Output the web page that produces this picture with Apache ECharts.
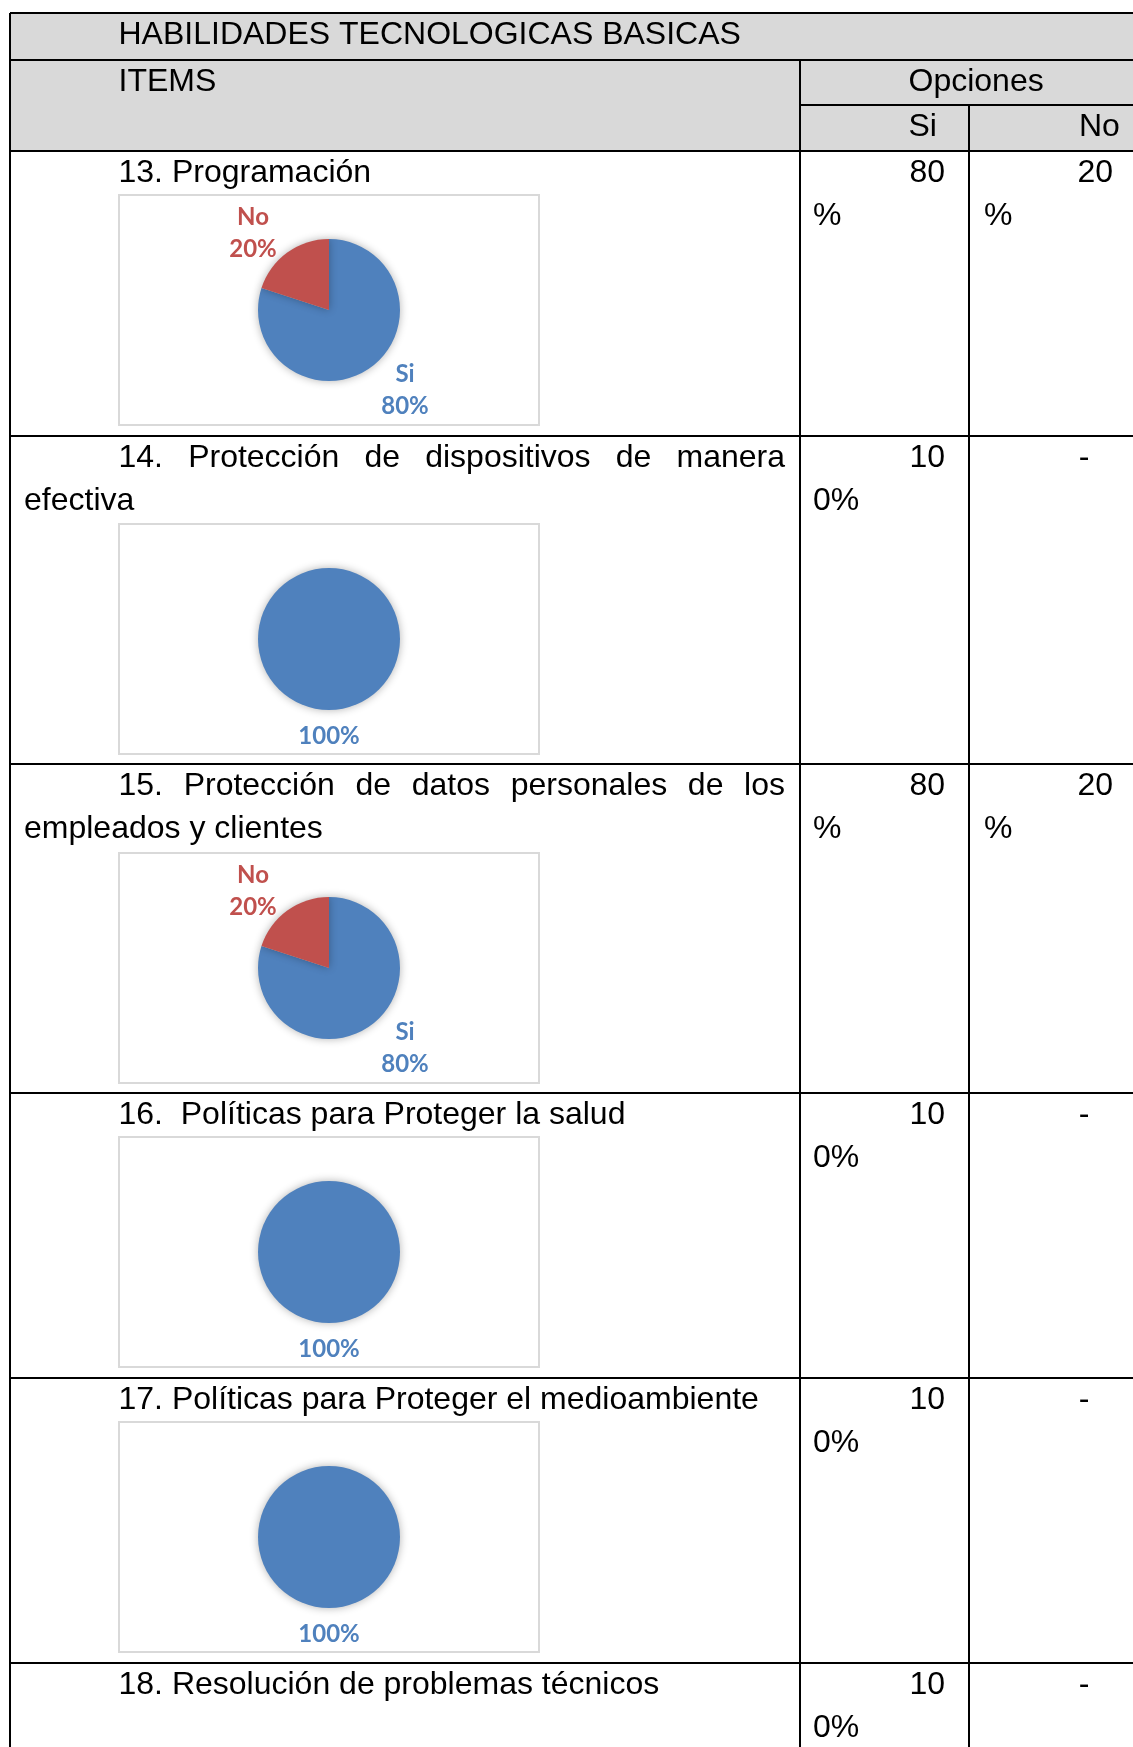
<!DOCTYPE html>
<html>
<head>
<meta charset="utf-8">
<script src="https://cdn.jsdelivr.net/npm/echarts@6/dist/echarts.min.js"></script>
<style>
html,body{margin:0;padding:0;background:#fff;}
#c{width:1133px;height:1747px;}
</style>
</head>
<body>
<div id="c"></div>
<script>
(function () {
// ---------------- data ----------------
const tableTitle = 'HABILIDADES TECNOLOGICAS BASICAS';
const itemsHeader = 'ITEMS';
const optionsHeader = 'Opciones';
const categories = ['Si', 'No'];
const itemTexts = [
  '13. Programación',
  '14. Protección de dispositivos de manera efectiva',
  '15. Protección de datos personales de los empleados y clientes',
  '16.  Políticas para Proteger la salud',
  '17. Políticas para Proteger el medioambiente',
  '18. Resolución de problemas técnicos'
];
const siValues = [80, 100, 80, 100, 100, 100];
const noValues = [20, 0, 20, 0, 0, 0];
const hasChart = [true, true, true, true, true, false];

// ---------------- layout / style ----------------
const W = 1133, H = 1747;
const FONT_FAMILY = '"Liberation Sans", Arial, Helvetica, sans-serif';
const FS = 32;
const LINE_H = 43.8;
const LEFT = 10, COL1 = 800, COL2 = 969;
const TOP = 13, ROW2 = 60, ROW3 = 105, BODY_TOP = 151;
const FIRST_X = 118.5, NEXT_X = 24, TEXT_RIGHT = 785;
const TEXT_OFF = 21.7;
const BOX_X = 119, BOX_W = 420, BOX_H = 230, BOX_PAD = 11;
const PIE_R = 71;
const LABEL_R = 97;
const COLORS = ['#4f81bd', '#c0504d'];
const LABEL_FONT = 'Lato, "Open Sans", sans-serif';

const ctx = document.createElement('canvas').getContext('2d');
ctx.font = FS + 'px ' + FONT_FAMILY;
function tw(t) { return ctx.measureText(t).width; }

const els = [];
function addText(text, x, y, align) {
  align = align || 'left';
  els.push({
    type: 'text', z: 5, silent: true,
    style: {
      text: text, x: x, y: y, fill: '#000',
      fontSize: FS, fontFamily: FONT_FAMILY,
      textAlign: align, align: align,
      textVerticalAlign: 'middle', verticalAlign: 'middle'
    }
  });
}
function addLine(x1, y1, x2, y2) {
  els.push({
    type: 'line', z: 4, silent: true,
    shape: { x1: x1, y1: y1, x2: x2, y2: y2 },
    style: { stroke: '#000', lineWidth: 2 }
  });
}

// header background
els.push({ type: 'rect', z: 1, silent: true,
  shape: { x: LEFT, y: TOP, width: W - LEFT, height: BODY_TOP - TOP },
  style: { fill: '#d9d9d9' } });

addText(tableTitle, FIRST_X, TOP + TEXT_OFF);
addText(itemsHeader, FIRST_X, ROW2 + TEXT_OFF);
addText(optionsHeader, 908.5, ROW2 + TEXT_OFF);
addText(categories[0], 908.5, ROW3 + TEXT_OFF);
addText(categories[1], 1079, ROW3 + TEXT_OFF);

// item text wrapping (justified except last line)
function wrapItem(text) {
  const words = text.split(' ');
  const lines = [];
  let cur = [];
  words.forEach(function (w) {
    const cand = cur.concat([w]);
    const avail = lines.length === 0 ? TEXT_RIGHT - FIRST_X : TEXT_RIGHT - NEXT_X;
    if (cur.length && tw(cand.join(' ')) > avail) { lines.push(cur); cur = [w]; }
    else cur = cand;
  });
  lines.push(cur);
  return lines;
}
function drawItem(lines, rowTop) {
  lines.forEach(function (ln, li) {
    const x0 = li === 0 ? FIRST_X : NEXT_X;
    const y = rowTop + TEXT_OFF + li * LINE_H;
    if (li < lines.length - 1) {
      const ws = ln.filter(function (w) { return w.length; });
      const total = ws.reduce(function (a, w) { return a + tw(w); }, 0);
      const gap = (TEXT_RIGHT - x0 - total) / (ws.length - 1);
      let x = x0;
      ws.forEach(function (w) { addText(w, x, y); x += tw(w) + gap; });
    } else {
      addText(ln.join(' '), x0, y);
    }
  });
}
function drawValue(v, rowTop, colLeftX, colRightX, dashX) {
  const y = rowTop + TEXT_OFF;
  if (v === 0) { addText('-', dashX, y, 'right'); return; }
  const s = v + '%';
  addText(s.slice(0, 2), colRightX, y, 'right');
  if (s.length > 2) addText(s.slice(2), colLeftX, y + LINE_H, 'left');
}

const rowTops = [];
const boxTops = [];
let curTop = BODY_TOP;
itemTexts.forEach(function (t, i) {
  const lines = wrapItem(t);
  const rt = Math.round(curTop);
  rowTops.push(rt);
  drawItem(lines, rt);
  drawValue(siValues[i], rt, 813, 945, 945);
  drawValue(noValues[i], rt, 984, 1113, 1089.5);
  const bt = curTop + lines.length * LINE_H + 0.5;
  boxTops.push(bt);
  if (hasChart[i]) {
    els.push({ type: 'rect', z: 2, silent: true,
      shape: { x: BOX_X, y: Math.round(bt), width: BOX_W, height: BOX_H },
      style: { fill: '#fff', stroke: '#d9d9d9', lineWidth: 2 } });
  }
  curTop = curTop + lines.length * LINE_H + BOX_H + BOX_PAD;
});

// table lines
addLine(LEFT, TOP, LEFT, H);
addLine(LEFT, TOP, W, TOP);
addLine(LEFT, ROW2, W, ROW2);
addLine(COL1, ROW2, COL1, H);
addLine(COL1, ROW3, W, ROW3);
addLine(COL2, ROW3, COL2, H);
rowTops.forEach(function (rt) { addLine(LEFT, rt, W, rt); });

// pies
const series = [];
itemTexts.forEach(function (t, i) {
  if (!hasChart[i]) return;
  const cx = BOX_X + BOX_W / 2;
  const cy = Math.round(boxTops[i]) + BOX_H / 2;
  const vals = [siValues[i], noValues[i]];
  const total = vals[0] + vals[1];
  series.push({
    type: 'pie', z: 10, silent: true, animation: false,
    center: [cx, cy], radius: PIE_R,
    startAngle: 90, clockwise: true,
    avoidLabelOverlap: false,
    itemStyle: {
      borderWidth: 0,
      shadowBlur: 8, shadowColor: 'rgba(0,0,0,0.3)'
    },
    label: {
      show: true, position: 'outside',
      fontFamily: LABEL_FONT, fontWeight: 'bold', fontSize: 24, lineHeight: 32,
      formatter: function (p) {
        return p.percent === 100 ? p.percent + '%' : p.name + '\n' + p.percent + '%';
      }
    },
    labelLine: { show: false },
    labelLayout: function (p) {
      const k = p.dataIndex;
      if (!vals[k]) return {};
      let before = 0;
      for (let j = 0; j < k; j++) before += vals[j];
      const mid = (before + vals[k] / 2) / total * 2 * Math.PI;
      const dx = Math.sin(mid), dy = -Math.cos(mid);
      const side = Math.abs(dx) < 0.1 ? 0 : Math.sign(dx);
      const w = p.labelRect.width;
      return {
        x: cx + dx * LABEL_R + side * w * 0.4,
        y: cy + dy * LABEL_R + Math.abs(side) * 2,
        align: 'center', verticalAlign: 'middle'
      };
    },
    data: categories.map(function (c, k) {
      return {
        name: c, value: vals[k],
        itemStyle: { color: COLORS[k] },
        label: { show: vals[k] > 0, color: COLORS[k] }
      };
    })
  });
});

const chart = echarts.init(document.getElementById('c'), null, { renderer: 'canvas', width: W, height: H });
chart.setOption({
  animation: false,
  backgroundColor: '#fff',
  graphic: { elements: els },
  series: series
});
})();
</script>
</body>
</html>
